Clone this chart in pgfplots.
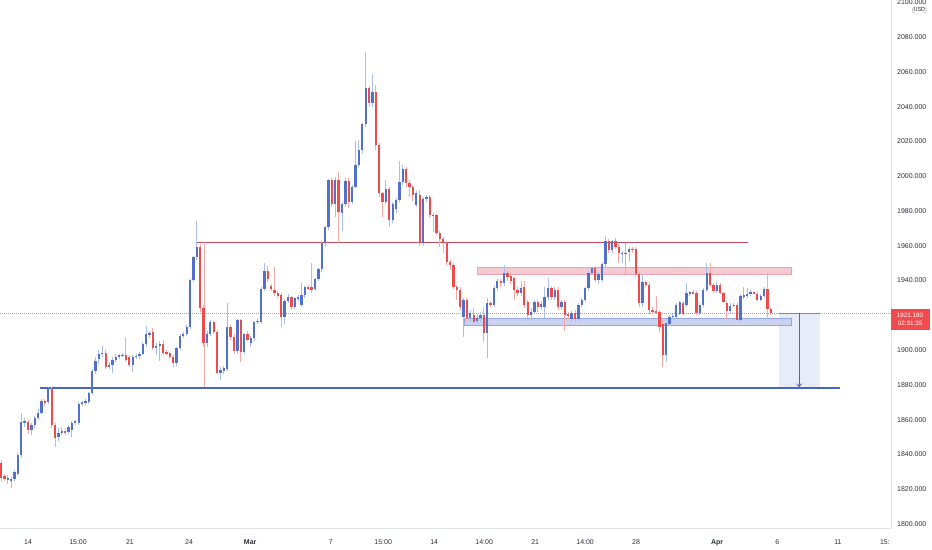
\documentclass[border=0pt]{standalone}
\usepackage{pgfplots}
\usepackage{pgfplotstable}
\pgfplotsset{compat=1.18}
\usetikzlibrary{arrows.meta}
\usepackage{fontspec}
\setmainfont{Liberation Sans}
\definecolor{upc}{HTML}{5271CC}
\definecolor{dnc}{HTML}{EF4B4B}
\definecolor{upw}{HTML}{A9BDEB}
\definecolor{dnw}{HTML}{F5A9A9}
\definecolor{resl}{HTML}{C2495B}
\definecolor{supl}{HTML}{4D63C2}
\definecolor{pinkf}{HTML}{F5CAD3}
\definecolor{pinkd}{HTML}{E7A3B2}
\definecolor{bluef}{HTML}{C9D2F0}
\definecolor{blued}{HTML}{97A7DD}
\definecolor{projf}{HTML}{E6ECF8}
\definecolor{axl}{HTML}{E0E3EB}
\definecolor{txt}{HTML}{2A2E39}
\definecolor{pricered}{HTML}{F04B4F}

\pgfplotstableread{
i o h l c
0 1835 1837 1824 1826.5
1 1827.5 1829 1824.5 1826
2 1825.5 1828 1823 1826.5
3 1824.5 1827 1820.5 1826
4 1826 1831 1825 1830
5 1829 1841 1828 1839.6
6 1839.6 1864 1838 1858.6
7 1858 1861 1856 1859
8 1858.6 1860 1852 1854
9 1854 1858 1851 1857
10 1857 1862 1855 1861
11 1861 1866 1860 1864
12 1864 1872 1863 1871
13 1871 1872 1868 1869.5
14 1870 1879 1869 1878
15 1877.5 1879 1855 1857
16 1857 1858 1844 1849.5
17 1850 1855 1848 1852.5
18 1852.5 1856 1851 1853.5
19 1853.5 1855 1851 1852.8
20 1853 1857 1852 1856
21 1854 1859 1850 1858
22 1858 1860 1857 1859
23 1858 1870 1857 1869
24 1869 1871 1868 1870
25 1869.5 1872 1868.5 1870.5
26 1870 1876 1869 1875.5
27 1875.5 1889 1874 1888
28 1888 1896 1886 1894
29 1895 1900 1892 1897.6
30 1897.6 1902.5 1896 1898.5
31 1898.2 1900 1889 1890.2
32 1890.2 1893 1889 1891.4
33 1891.4 1896 1887 1894.3
34 1894.3 1898 1893 1896.2
35 1896.2 1898 1895 1897
36 1897 1898.5 1896 1897.3
37 1897 1907.7 1893 1894.3
38 1896 1897 1890 1891.4
39 1891.4 1897 1887.5 1896.2
40 1896.2 1898 1895 1896.8
41 1896.5 1899 1895 1897.8
42 1897.7 1904.5 1897 1903.5
43 1903.5 1914 1902 1909
44 1909 1911 1907 1909.8
45 1910.5 1912.5 1900 1901
46 1901 1904 1897 1902.3
47 1902.3 1905 1894 1903.5
48 1903.5 1906 1897 1898.2
49 1899 1900 1897 1898
50 1898.2 1899 1895 1896.2
51 1896.2 1897 1890 1892.7
52 1892.7 1902 1891 1901
53 1901 1909 1900 1908
54 1908 1910.5 1907 1909.2
55 1909.2 1914.5 1908 1913.4
56 1913.4 1941 1912 1940.3
57 1940.3 1954 1939 1953.3
58 1953.3 1974.4 1952 1959.4
59 1959.4 1961 1922 1924
60 1924 1926 1902 1904
61 1904 1911 1902 1909.2
62 1909.2 1917.5 1908 1916.3
63 1916.3 1917 1909 1910.5
64 1910.5 1911.5 1886 1887
65 1887 1890 1882.8 1888.5
66 1888 1891 1886 1889.5
67 1889 1927 1888 1913.4
68 1913.4 1914.5 1906 1907.7
69 1907.7 1909 1898 1899.6
70 1899.6 1918 1898 1917.3
71 1917.3 1918 1893.3 1899
72 1899 1910 1898 1909.2
73 1909.2 1911 1905 1906
74 1904 1908 1902 1907
75 1906.8 1917 1905 1916.3
76 1916.3 1918.5 1915 1917
77 1916.3 1936 1915 1935
78 1935 1950 1934 1945.6
79 1945.6 1948.5 1939 1940.6
80 1937 1938 1934 1935
81 1934.5 1947.7 1931 1932.6
82 1932.6 1934 1930 1931.3
83 1931.6 1933 1913.4 1918.8
84 1918.8 1929.5 1915 1928.4
85 1928.4 1932 1927 1930.7
86 1930.3 1931 1923 1924.9
87 1924.9 1930.5 1923.5 1929.7
88 1929.7 1931.5 1928 1930.2
89 1926 1938.4 1925 1931.6
90 1931.6 1937 1930 1936
91 1936 1937.5 1934.5 1935.5
92 1936 1950 1933 1934.5
93 1935 1941.5 1934 1940.6
94 1940.6 1947 1939.5 1946.4
95 1946.4 1962.5 1945 1961.7
96 1961.7 1971.5 1960 1970.6
97 1970.6 1998.5 1969 1997.8
98 1997.8 1999 1982 1983.8
99 1983.8 1999.5 1976.7 1997.8
100 1997.8 2002.2 1961.5 1979.6
101 1978.6 1985 1968.4 1983.8
102 1983.8 1999 1982 1997.2
103 1997.2 1999 1981.5 1985
104 1985 1995 1984 1994
105 1994 2020 1993 2006.4
106 2006.4 2021 2005 2015
107 2015 2030.5 2013 2029.8
108 2029.8 2071.2 2028 2050.5
109 2050.5 2052 2040 2041.9
110 2041.9 2059 2040 2048.6
111 2048.6 2052.4 2015 2017.9
112 2017.9 2019 1988 1990.1
113 1990.1 1991 1976.7 1985.3
114 1985.3 1998 1984 1992.6
115 1992.6 1994 1971 1974.8
116 1974.8 1985 1973 1983.8
117 1980.9 1987.5 1979 1986.3
118 1986.3 2008.9 1985 1996.8
119 1996.8 2006.4 1995 2003.9
120 2003.9 2005.5 1994 1996.2
121 1996.2 1998 1988.2 1993.6
122 1993.6 1995 1986 1989.1
123 1983.4 1991.5 1982 1990.1
124 1989.1 1992 1960 1961.4
125 1961.4 1988 1960 1986.7
126 1986.7 1989 1985 1988.2
127 1988.2 1989 1976 1977.6
128 1977.6 1979 1968 1977.2
129 1977.6 1978.5 1966 1967.5
130 1967.5 1968.5 1959 1963.7
131 1963.7 1965 1955.6 1961.4
132 1961.4 1963 1949 1950.8
133 1950.8 1952 1946 1948.9
134 1948.9 1950 1935 1936.4
135 1936.4 1937.5 1928.8 1934.5
136 1934.5 1936 1923 1924.9
137 1919.2 1930 1907.7 1928.8
138 1928.8 1930 1916 1918.3
139 1918.3 1923 1916 1921.1
140 1920.1 1924 1914 1916.3
141 1916.9 1920 1915 1918.3
142 1918.3 1922 1916 1920.1
143 1920.1 1925 1904.8 1910
144 1910 1930 1895.2 1926.9
145 1926.9 1928 1925 1926
146 1926 1937 1925 1935.5
147 1935.5 1941 1934 1939.7
148 1939.7 1941 1936 1938.5
149 1938.8 1948.9 1937 1944.5
150 1944.5 1946 1940 1942
151 1942.5 1945 1938 1940
152 1941.2 1942 1929 1934.5
153 1934.5 1936 1931 1932.6
154 1932.6 1939.5 1931 1935.5
155 1936.4 1940 1924 1925.9
156 1927.8 1929 1917 1920.1
157 1920.1 1924 1917.5 1922
158 1922 1929 1921 1927.8
159 1927.8 1929 1922 1924.5
160 1924.5 1928 1923 1926.5
161 1924.9 1936 1918.3 1930.7
162 1930.7 1941.2 1929 1935.5
163 1935.5 1937 1929 1930.7
164 1930.7 1936 1929 1934.5
165 1934.5 1936 1923 1924.9
166 1924.9 1929 1923 1927.8
167 1927.8 1929 1911 1920.1
168 1920.8 1922 1918 1919.8
169 1917.8 1922.5 1916 1921.1
170 1921.5 1923 1916 1917.8
171 1917.8 1927 1916 1925.9
172 1925.9 1930 1924.5 1928.8
173 1928.8 1936.5 1927.5 1935.5
174 1935.5 1946 1934 1944.5
175 1944.5 1948 1943 1947
176 1947 1948.5 1939 1940.3
177 1940.3 1945 1938 1943.5
178 1940.3 1950.5 1939 1949.3
179 1949.3 1965.7 1948 1962.7
180 1962.7 1964 1956 1957.5
181 1957.5 1963.5 1956 1962.7
182 1962.7 1964.5 1958 1959.4
183 1959.4 1961 1950 1955.6
184 1955.6 1957 1950 1955.9
185 1955.6 1961.4 1943.6 1956
186 1956.6 1959.5 1951 1958.2
187 1958.2 1959 1956 1957.5
188 1958.2 1959.5 1942 1943.6
189 1943.6 1945 1925 1926.9
190 1926.9 1944 1925 1938.9
191 1938.9 1940 1936 1937.5
192 1937.5 1939 1921 1923
193 1923 1924.5 1921 1922
194 1922.5 1931 1920.5 1921.5
195 1922 1923 1910.5 1913.4
196 1915 1917.3 1890.4 1897.2
197 1897.2 1915.4 1893.3 1915.4
198 1915 1920 1914 1919.2
199 1919.2 1921 1918 1919.8
200 1919.2 1927 1918 1925.9
201 1921 1928 1920 1927.5
202 1927 1928 1920 1921
203 1925.9 1938.4 1925 1932.6
204 1932.6 1934 1931 1933.2
205 1933.2 1934.5 1932 1932.8
206 1932.6 1934 1920 1921.1
207 1921.1 1927 1920 1925.9
208 1925.9 1935.5 1925 1934.5
209 1934.5 1949.9 1933.5 1944.5
210 1944.5 1949.9 1936.5 1937.4
211 1937.4 1938.5 1933 1934
212 1934 1939 1933 1937.4
213 1937.4 1938.5 1932 1932.6
214 1932.6 1933.5 1927 1927.8
215 1927.2 1928 1918 1922.6
216 1922.6 1927 1921.5 1925.5
217 1925.5 1927 1924.5 1925.9
218 1925.9 1927 1916.5 1917.3
219 1917.3 1932 1916 1931
220 1931 1936.4 1929.5 1931.5
221 1931.5 1935.5 1930 1932
222 1932 1934.5 1931 1933.2
223 1933.2 1934 1932 1932.4
224 1932.2 1933.5 1928 1928.8
225 1928.8 1932 1928 1931
226 1931 1936 1930 1935
227 1935 1944.5 1918 1923.4
228 1923.4 1924.5 1920 1921.18
}\candles

\begin{document}
\begin{tikzpicture}
\path[use as bounding box] (0,-22bp) rectangle (932bp,528bp);
\begin{axis}[
  at={(0,0)}, anchor=south west,
  scale only axis, width=891bp, height=528bp,
  xmin=-0.3, xmax=263.6, ymin=1797.7, ymax=2101.3,
  clip=false,
  axis x line*=bottom, axis y line*=right,
  axis line style={draw=axl, line width=0.8bp},
  major tick length=0pt,
  ytick={1800,1820,1840,1860,1880,1900,1940,1960,1980,2000,2020,2040,2060,2080,2100},
  /pgf/number format/.cd, fixed, fixed zerofill, precision=3, 1000 sep={}, assume math mode=true,
  /pgfplots/.cd,
  yticklabel style={font=\fontsize{7}{8}\selectfont, text=txt, anchor=west, inner sep=0pt, xshift=6bp},
  xtick={8.0,22.8,38.2,55.7,73.8,97.7,113.2,128.3,143.1,158.2,173.0,188.1,212.1,229.9,247.9,261.8},
  xticklabels={14,15:00,21,24,\textbf{Mar},7,15:00,14,14:00,21,14:00,28,\textbf{Apr},6,11,15:},
  xticklabel style={font=\fontsize{7}{8}\selectfont, text=txt, anchor=base, inner sep=0pt, yshift=-16bp},
]
% projection box fill
\addplot[fill=projf, draw=none] coordinates {(230.5,1878.2) (242.6,1878.2) (242.6,1921.18) (230.5,1921.18)} -- cycle;
% zones
\addplot[fill=pinkf, draw=pinkd, line width=0.6bp] coordinates {(141,1943.7) (234,1943.7) (234,1947.7) (141,1947.7)} -- cycle;
\addplot[fill=bluef, draw=blued, line width=0.6bp] coordinates {(137.1,1914.2) (234,1914.2) (234,1918.2) (137.1,1918.2)} -- cycle;
% lines
\addplot[draw=resl, line width=0.8bp] coordinates {(58.1,1962.1) (221.3,1962.1)};
\addplot[draw=dnw, line width=0.8bp] coordinates {(60.1,1962.1) (60.1,1878.2)};
\addplot[draw=supl, line width=1.1bp] coordinates {(11.55,1878.2) (248.5,1878.2)};
\addplot[draw=pricered!70, line width=0.9bp, dash pattern=on 1bp off 1bp] coordinates {(-0.3,1921.18) (263.6,1921.18)};
% wicks
\addplot[draw=none, error bars/.cd, y dir=both, y explicit, error mark=none,
  error bar style={line width=0.9bp, draw=upw}]
  table[x=i, y expr={\thisrow{c}>=\thisrow{o} ? 0.5*(\thisrow{h}+\thisrow{l}) : nan}, y error expr={0.5*(\thisrow{h}-\thisrow{l})}] {\candles};
\addplot[draw=none, error bars/.cd, y dir=both, y explicit, error mark=none,
  error bar style={line width=0.9bp, draw=dnw}]
  table[x=i, y expr={\thisrow{c}<\thisrow{o} ? 0.5*(\thisrow{h}+\thisrow{l}) : nan}, y error expr={0.5*(\thisrow{h}-\thisrow{l})}] {\candles};
% bodies
\addplot[draw=none, error bars/.cd, y dir=both, y explicit, error mark=none,
  error bar style={line width=2.3bp, draw=upc}]
  table[x=i, y expr={\thisrow{c}>=\thisrow{o} ? 0.5*(\thisrow{o}+\thisrow{c}) : nan}, y error expr={max(0.5*abs(\thisrow{c}-\thisrow{o}),0.3)}] {\candles};
\addplot[draw=none, error bars/.cd, y dir=both, y explicit, error mark=none,
  error bar style={line width=2.3bp, draw=dnc}]
  table[x=i, y expr={\thisrow{c}<\thisrow{o} ? 0.5*(\thisrow{o}+\thisrow{c}) : nan}, y error expr={max(0.5*abs(\thisrow{c}-\thisrow{o}),0.3)}] {\candles};
% projection
\addplot[draw=supl!80, line width=0.7bp] coordinates {(230.5,1921.18) (242.6,1921.18)};
\addplot[draw=supl, line width=1.5bp] coordinates {(230.5,1878.2) (242.6,1878.2)};
\addplot[draw=supl, line width=0.8bp, -{Straight Barb[length=3bp,width=5bp]}] coordinates {(236.4,1921.18) (236.4,1878.6)};
% price label
\node[anchor=north west, fill=pricered, text=white, inner sep=0pt, minimum width=39bp, minimum height=21bp, align=center, font=\fontsize{6.3}{7.6}\selectfont] at (axis cs:263.4,1923.7) {1921.180\\02:31:35};
\node[draw=black!35, rounded corners=1.5bp, inner sep=1bp, text=txt, font=\fontsize{5.5}{6}\selectfont] at (axis cs:272.0,2095.5) {USD};
\end{axis}
\end{tikzpicture}
\end{document}
